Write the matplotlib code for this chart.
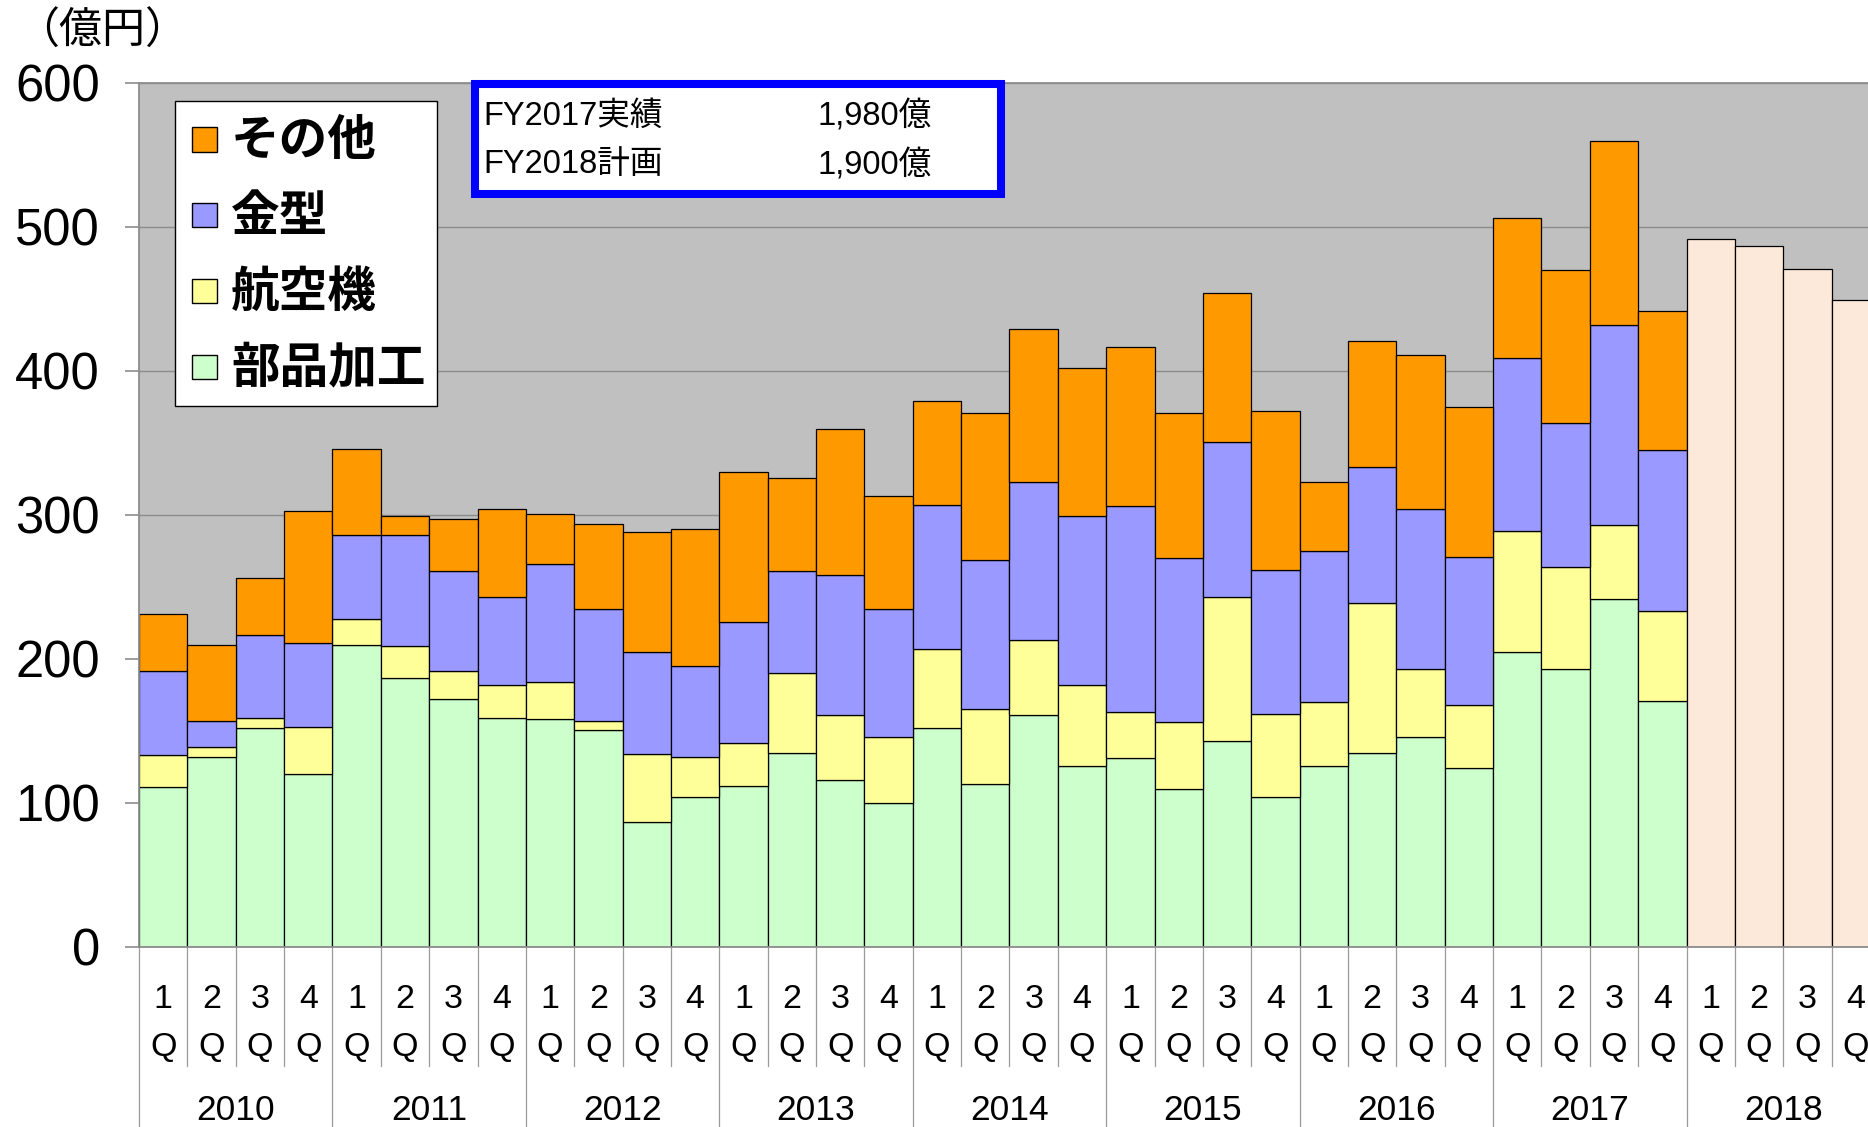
import numpy as np
import matplotlib
matplotlib.use('Agg')
import matplotlib.pyplot as plt
from matplotlib.patches import Rectangle
from matplotlib.transforms import blended_transform_factory

W, H = 1868, 1127

# 四半期売上（億円）: 部品加工 / 航空機 / 金型 / その他
years = ['2010', '2011', '2012', '2013', '2014', '2015', '2016', '2017', '2018']
quarters = ['1', '2', '3', '4']

parts = [111, 132, 152, 120, 210, 187, 172, 159, 158, 151, 87, 104, 112, 135, 116, 100,
         152, 113, 161, 126, 131, 110, 143, 104, 126, 135, 146, 124, 205, 193, 242, 171]
aircraft = [22, 7, 7, 33, 18, 22, 20, 23, 26, 6, 47, 28, 30, 55, 45, 46,
            55, 52, 52, 56, 32, 46, 100, 58, 44, 104, 47, 44, 84, 71, 51, 62]
mold = [59, 18, 58, 58, 58, 77, 69, 61, 82, 78, 71, 63, 84, 71, 97, 89,
        100, 104, 110, 117, 143, 114, 108, 100, 105, 94, 111, 103, 120, 100, 139, 112]
other = [39, 53, 39, 92, 60, 13, 36, 61, 35, 59, 83, 95, 104, 65, 102, 78,
         72, 102, 106, 103, 111, 101, 103, 110, 48, 88, 107, 104, 97, 106, 128, 97]
plan_2018 = [492, 487, 471, 449]

series = [('部品加工', parts, '#CCFFCC'),
          ('航空機', aircraft, '#FFFF99'),
          ('金型', mold, '#9999FF'),
          ('その他', other, '#FF9900')]

info = [('FY2017実績', '1,980億'), ('FY2018計画', '1,900億')]

jp = ['Noto Sans CJK JP', 'DejaVu Sans']
latin = ['Liberation Sans', 'Noto Sans CJK JP']


def fx(px):
    return px / W


def fy(py):
    return 1 - py / H


fig = plt.figure(figsize=(W / 100, H / 100), dpi=100)
fig.set_facecolor('w')
ax = fig.add_axes([fx(139), fy(947), fx(1880) - fx(139), fy(83) - fy(947)])
ax.set_facecolor('#C0C0C0')

n_act = len(parts)
x_act = np.arange(n_act)
bottom = np.zeros(n_act)
for name, vals, col in series:
    ax.bar(x_act, vals, width=1.0, bottom=bottom, color=col,
           edgecolor='black', linewidth=0.9, zorder=2)
    bottom += np.array(vals)

x_plan = np.arange(n_act, n_act + len(plan_2018))
ax.bar(x_plan, plan_2018, width=1.0, color='#FDE9D9',
       edgecolor='black', linewidth=0.9, zorder=2)

n_all = n_act + len(plan_2018)
ax.set_xlim(-0.5, n_all - 0.5)
ax.set_ylim(0, 600)
ax.set_yticks(range(0, 601, 100))
ax.yaxis.grid(True, color='#8C8C8C', linewidth=1.0, zorder=0)
ax.set_axisbelow(True)
ax.tick_params(axis='y', length=10, width=1.2, color='#8C8C8C',
               labelsize=36.5, pad=18)
for lab in ax.get_yticklabels():
    lab.set_family(latin)
ax.set_xticks([])
for s in ['left', 'bottom', 'top']:
    ax.spines[s].set_color('#8C8C8C')
    ax.spines[s].set_linewidth(1.3)
ax.spines['right'].set_visible(False)

# 多段の横軸ラベル
tr = blended_transform_factory(ax.transData, fig.transFigure)
for i in range(n_all):
    ax.text(i, fy(1000), quarters[i % 4], transform=tr, ha='center', va='center',
            fontsize=24.5, family=latin)
    ax.text(i, fy(1048), 'Q', transform=tr, ha='center', va='center',
            fontsize=24.5, family=latin)
for k, yr in enumerate(years):
    ax.text(4 * k + 1.5, fy(1110), yr, transform=tr, ha='center', va='center',
            fontsize=25.5, family=latin)
for k in range(n_all + 1):
    y_end = 1127 if k % 4 == 0 else 1066
    ax.plot([k - 0.5, k - 0.5], [fy(947), fy(y_end)], transform=tr,
            color='#9A9A9A', linewidth=0.9, clip_on=False)

# 単位
fig.text(fx(102), fy(32), '（億円）', ha='center', va='center',
         fontsize=31, family=jp)

# 凡例（上から その他, 金型, 航空機, 部品加工）
fig.add_artist(Rectangle((fx(175), fy(405.5)), fx(436.5) - fx(175), fy(101) - fy(405.5),
                         transform=fig.transFigure, facecolor='white',
                         edgecolor='black', linewidth=1.0, zorder=5))
row_y = [139.5, 215, 291, 367]
for (name, vals, col), yc in zip(series[::-1], row_y):
    fig.add_artist(Rectangle((fx(192), fy(yc + 12)), fx(24.5), 24.5 / H,
                             transform=fig.transFigure, facecolor=col,
                             edgecolor='black', linewidth=1.0, zorder=6))
    fig.text(fx(231), fy(yc + 1), name, ha='left', va='center', fontsize=35,
             family=jp, weight='bold', zorder=6)

# 実績・計画ボックス
fig.add_artist(Rectangle((fx(475), fy(194)), fx(1001) - fx(475), fy(84) - fy(194),
                         transform=fig.transFigure, facecolor='white',
                         edgecolor='#0000FF', linewidth=5.8, zorder=5))
for (left, right), yc in zip(info, [116, 165]):
    fig.text(fx(483), fy(yc), left, ha='left', va='center', fontsize=23.5,
             family=latin, zorder=6)
    fig.text(fx(817), fy(yc), right, ha='left', va='center', fontsize=23.5,
             family=latin, zorder=6)

fig.savefig('out.png', dpi=100)
